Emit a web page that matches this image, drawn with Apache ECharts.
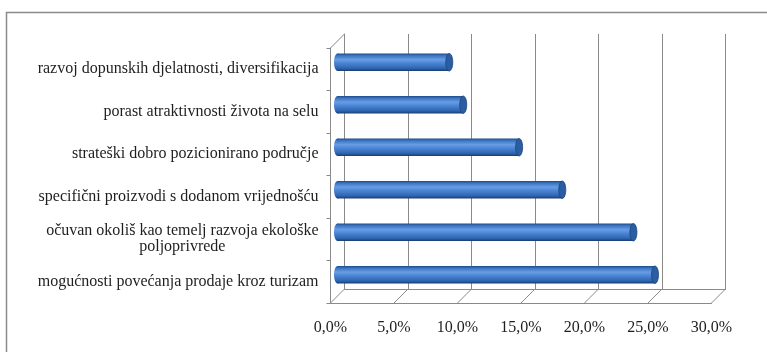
<!DOCTYPE html>
<html>
<head>
<meta charset="utf-8">
<script src="https://cdn.jsdelivr.net/npm/echarts@6/dist/echarts.min.js"></script>
<style>
  html, body { margin: 0; padding: 0; background: #ffffff; }
  #chart { width: 767px; height: 352px; }
</style>
</head>
<body>
<div id="chart"></div>
<script>
// Categories, top to bottom
const categories = [
  'razvoj dopunskih djelatnosti, diversifikacija',
  'porast atraktivnosti života na selu',
  'strateški dobro pozicionirano područje',
  'specifični proizvodi s dodanom vrijednošću',
  'očuvan okoliš kao temelj razvoja ekološke\npoljoprivrede',
  'mogućnosti povećanja prodaje kroz turizam'
];
// Share of answers (%)
const shares = [8.8, 9.9, 14.3, 17.7, 23.3, 25.0];
// Value axis ticks (%)
const xTicks = [0, 5, 10, 15, 20, 25, 30];

// depth offset of the pseudo-3D walls
const DX = 14, DY = 14;
const GRID = '#8a8a8a';
const FONT_FAMILY = 'Liberation Serif';
const FSIZE = 16;
const TEXT = '#1e1e1e';
const LABEL_GAP = 12;

const chart = echarts.init(document.getElementById('chart'));

const valueAxis = (gridIndex, extra) => Object.assign({
  type: 'value', gridIndex, min: xTicks[0], max: xTicks[xTicks.length - 1], interval: 5,
  axisLabel: { show: false }, axisTick: { show: false },
  axisLine: { show: false }, splitLine: { show: false }
}, extra);
const catAxis = (gridIndex, extra) => Object.assign({
  type: 'category', gridIndex, data: categories, inverse: true,
  axisLabel: { show: false }, axisTick: { show: false },
  axisLine: { show: false }, splitLine: { show: false }
}, extra);

// width of the widest line of a label, as zrender measures it
function blockWidth(text) {
  return Math.max(...text.split('\n').map(line => new echarts.graphic.Text({
    style: { text: line, fontFamily: FONT_FAMILY, fontSize: FSIZE }
  }).getBoundingRect().width));
}

const option = {
  animation: false,
  backgroundColor: '#ffffff',
  grid: [
    // back wall
    { left: 344.5, right: 41.5, top: 34, bottom: 63 },
    // bar depth
    { left: 337.5, right: 48.5, top: 41, bottom: 56 },
    // front edge
    { left: 330.5, right: 55.5, top: 48, bottom: 49 }
  ],
  xAxis: [
    valueAxis(0, {
      axisLine: { show: true, lineStyle: { color: GRID, width: 1 } },
      splitLine: { show: true, lineStyle: { color: GRID, width: 1 } }
    }),
    valueAxis(1),
    valueAxis(2, {
      axisLine: { show: true, lineStyle: { color: GRID, width: 1 } },
      axisLabel: {
        show: true, margin: 17, color: TEXT, fontFamily: FONT_FAMILY, fontSize: FSIZE,
        formatter: v => v.toFixed(1).replace('.', ',') + '%'
      }
    })
  ],
  yAxis: [
    catAxis(0, { axisLine: { show: true, lineStyle: { color: GRID, width: 1 } } }),
    catAxis(1),
    catAxis(2, {
      axisLine: { show: true, lineStyle: { color: GRID, width: 1 } },
      axisTick: { show: true, length: 4, lineStyle: { color: GRID } }
    })
  ],
  series: [
    {
      // floor and side-wall depth edges
      type: 'custom',
      xAxisIndex: 0, yAxisIndex: 0,
      clip: false, silent: true,
      data: xTicks.map(v => [v, 0]),
      renderItem(params, api) {
        const cs = params.coordSys;
        const x = api.coord([api.value(0), 0])[0];
        const bottom = cs.y + cs.height;
        const children = [{
          type: 'line',
          shape: { x1: x, y1: bottom, x2: x - DX, y2: bottom + DY },
          style: { stroke: GRID, lineWidth: 1 }
        }];
        if (params.dataIndex === 0) {
          children.push({
            type: 'line',
            shape: { x1: x, y1: cs.y, x2: x - DX, y2: cs.y + DY },
            style: { stroke: GRID, lineWidth: 1 }
          });
        }
        return { type: 'group', children };
      }
    },
    {
      // category labels: wrapped lines are centred under each other
      type: 'custom',
      xAxisIndex: 2, yAxisIndex: 2,
      clip: false, silent: true,
      data: categories.map((c, i) => [0, i]),
      renderItem(params, api) {
        const i = api.value(1);
        const text = categories[i];
        const p = api.coord([0, i]);
        const right = params.coordSys.x - LABEL_GAP;
        const multi = text.indexOf('\n') >= 0;
        const w = multi ? blockWidth(text) : 0;
        return {
          type: 'text',
          x: multi ? right - w / 2 : right,
          y: p[1],
          style: {
            text, fill: TEXT, fontFamily: FONT_FAMILY, fontSize: FSIZE, lineHeight: 16,
            align: multi ? 'center' : 'right', verticalAlign: 'middle'
          }
        };
      }
    },
    {
      // cylindrical bars
      type: 'custom',
      xAxisIndex: 1, yAxisIndex: 1,
      clip: false,
      data: shares.map((v, i) => [v, i]),
      renderItem(params, api) {
        const i = api.value(1);
        const start = api.coord([0, i]);
        const end = api.coord([api.value(0), i]);
        const h = api.size([0, 1])[1] * 0.41;
        const top = start[1] - h / 2;
        const rx = 3.5;
        const body = new echarts.graphic.LinearGradient(0, 0, 0, 1, [
          { offset: 0, color: '#1f4b88' },
          { offset: 0.12, color: '#3a74c4' },
          { offset: 0.35, color: '#6a9de2' },
          { offset: 0.55, color: '#4a86d6' },
          { offset: 0.85, color: '#2e64b0' },
          { offset: 1, color: '#1a3c70' }
        ]);
        return {
          type: 'group',
          children: [
            {
              type: 'ellipse',
              shape: { cx: start[0], cy: start[1], rx, ry: h / 2 },
              style: { fill: body }
            },
            {
              type: 'rect',
              shape: { x: start[0], y: top, width: end[0] - start[0], height: h },
              style: { fill: body }
            },
            {
              type: 'ellipse',
              shape: { cx: end[0], cy: end[1], rx, ry: h / 2 },
              style: { fill: '#2b5da3', stroke: '#1d4479', lineWidth: 0.8 }
            }
          ]
        };
      }
    }
  ],
  graphic: [
    {
      type: 'rect', silent: true,
      shape: { x: 6.5, y: 12.5, width: 800, height: 400 },
      style: { fill: null, stroke: '#8a8a8a', lineWidth: 1.5 }
    }
  ]
};

chart.setOption(option);
</script>
</body>
</html>
